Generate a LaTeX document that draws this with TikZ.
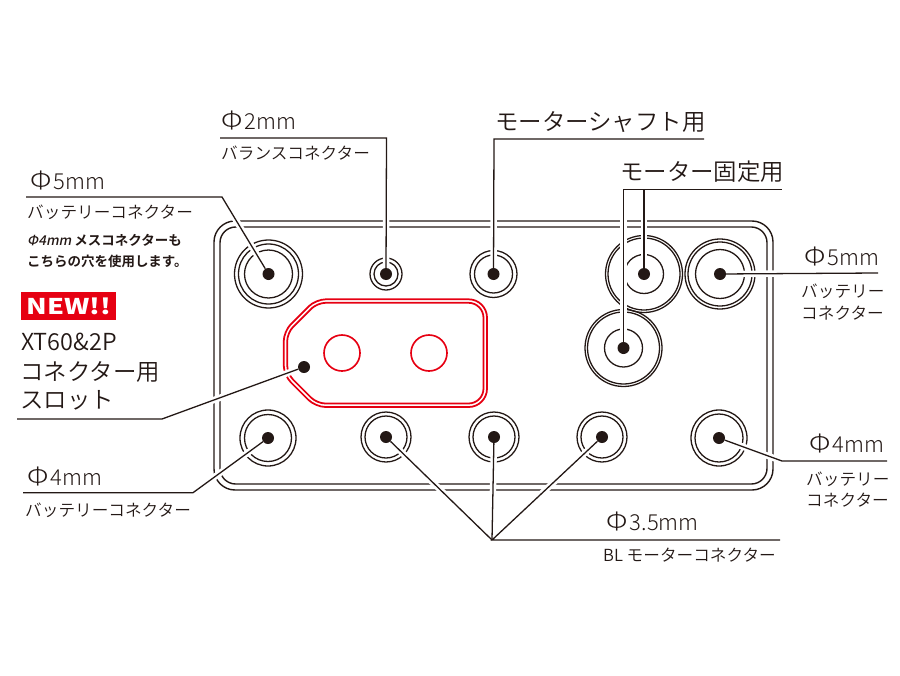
\documentclass[tikz,border=0pt]{standalone}
\usepackage{fontspec}
\setmainfont{Noto Sans CJK JP Bold}
\newfontfamily\lightjp{Noto Sans CJK JP DemiLight}
\newfontfamily\thinjp{Noto Sans CJK JP Light}
\newfontfamily\heavyjp{Noto Sans CJK JP Black}
\newfontfamily\noteit[FakeSlant=0.2]{Noto Sans CJK JP Medium}
\definecolor{inkline}{HTML}{231815}
\definecolor{slotred}{HTML}{E60012}
\newcommand{\dsign}{\scalebox{1.25}[1.12]{Φ}\hspace{0.1em}}
\pgfdeclarelayer{plate}
\pgfdeclarelayer{halo}
\pgfsetlayers{plate,halo,main}
\begin{document}
\begin{tikzpicture}[
      x=0.03cm, y=-0.03cm,
      plateline/.style={draw=inkline, line width=1.2pt},
      ringline/.style={draw=inkline, line width=1.1pt},
      slotline/.style={draw=slotred, line width=1.5pt},
      leader/.style={draw=inkline, line width=1.1pt},
      haloline/.style={draw=white, line width=5.5pt},
      hole/.style={circle, fill=inkline, minimum size=0.36cm, inner sep=0pt},
      dia/.style={anchor=base west, inner sep=0pt, text=inkline, font=\thinjp\fontsize{18.8}{20}\selectfont},
      bigtxt/.style={anchor=base west, inner sep=0pt, text=inkline, font=\lightjp\fontsize{20}{22}\selectfont},
      smalltxt/.style={anchor=base west, inner sep=0pt, text=inkline, font=\lightjp\fontsize{14.2}{16}\selectfont},
      notetxt/.style={anchor=base west, inner sep=0pt, text=inkline, font=\fontsize{11.5}{13}\selectfont}
    ]
      \useasboundingbox (0,0) rectangle (900,675);
      % holes
      \foreach \nm/\xx/\yy in {a/268.5/274, b/386/274, c/493.5/274, d/644/274, e/720/274, f/623.5/348,
                               g/268/438, h/386/437, i/494/437, j/602/437, k/719/438, s/304/367} {
        \node[hole] (\nm) at (\xx,\yy) {};
      }
      \coordinate (ka) at (222,197);    \coordinate (ea) at (26,197);
      \coordinate (kb) at (386.5,138);  \coordinate (eb) at (220,138);
      \coordinate (kc) at (494,139);    \coordinate (ec) at (704,139);
      \coordinate (kd) at (644,189.5);
      \coordinate (kf) at (623.5,189.5); \coordinate (ef) at (782,189.5);
      \coordinate (ee) at (878,273);
      \coordinate (kk) at (782,461);    \coordinate (ek) at (887,461);
      \coordinate (kg) at (193,492.7);  \coordinate (eg) at (23,492.7);
      \coordinate (ks) at (162,419);    \coordinate (es) at (17,419);
      \coordinate (kh) at (492,540);    \coordinate (eh) at (780,540);
      \begin{pgfonlayer}{plate}
        \draw[plateline, rounded corners=0.63cm] (214,221) rectangle (773,490);
        \draw[plateline, rounded corners=0.47cm] (220,227) rectangle (767,484);
        \foreach \nm/\rr in {a/{34,30,24}, b/{16,12}, c/{23.5,19}, d/{38.5,36,19.5}, e/{35,32,24.5}, f/{38.5,36,19},
                             g/{28,23.5}, h/{25,21}, i/{25,21}, j/{25,21}, k/{28,24}} {
          \foreach \r in \rr {
            \draw[ringline] (\nm.center) circle [radius=\r];
          }
        }
        % slot
        \draw[slotline] (400,299.3) [rounded corners=0.55cm] -- (487,299.3) -- (487,407) -- (400,407)
          [rounded corners=0.3cm] -- (315.5,407) -- (283.7,375.2) -- (283.7,331.3) -- (315.7,299.3) -- cycle;
        \draw[slotline] (400,302.8) [rounded corners=0.45cm] -- (483.5,302.8) -- (483.5,403.5) -- (400,403.5)
          [rounded corners=0.25cm] -- (317,403.5) -- (287.2,373.7) -- (287.2,332.8) -- (317.2,302.8) -- cycle;
        \draw[slotred, line width=1.4pt] (342,353) circle [radius=18];
        \draw[slotred, line width=1.4pt] (429,353) circle [radius=18];
      \end{pgfonlayer}
      % leaders
      \foreach \nm/\p/\q in {a/ka/ea, b/kb/eb, c/kc/ec, d/kd/kd, f/kf/ef, e/ee/ee, k/kk/ek, g/kg/eg, s/ks/es,
                             h/kh/kh, i/kh/kh, j/kh/eh} {
        \begin{pgfonlayer}{halo}
          \draw[haloline] (\nm) -- (\p) -- (\q);
        \end{pgfonlayer}
        \draw[leader] (\nm) -- (\p) -- (\q);
      }
      % labels
      \node[dia] (tb) at (221,129) {\dsign 2mm};
      \node[smalltxt] (tb2) at (221,159) {バランスコネクター};
      \node[bigtxt] (tc) at (495,130) {モーターシャフト用};
      \node[bigtxt] (tf) at (620,180) {モーター固定用};
      \node[dia] (ta) at (30,189) {\dsign 5mm};
      \node[smalltxt] (ta2) at (27,218) {バッテリーコネクター};
      \node[notetxt] (tn1) at (27,245) {{\noteit Φ4mm} メスコネクターも};
      \node[notetxt] (tn2) at (27,266) {こちらの穴を使用します。};
      \node[fill=slotred, minimum width=2.85cm, minimum height=0.83cm, inner sep=0pt, anchor=north west,
            text=white, font=\heavyjp\fontsize{18.5}{20}\selectfont] (tnew) at (21,292) {\scalebox{1.25}[1]{NEW!!}};
      \node[bigtxt] (ts1) at (21,350) {XT60\&2P};
      \node[bigtxt] (ts2) at (20,380) {コネクター用};
      \node[bigtxt] (ts3) at (20,408) {スロット};
      \node[dia] (tg) at (27,485) {\dsign 4mm};
      \node[smalltxt] (tg2) at (25,516) {バッテリーコネクター};
      \node[dia] (te) at (804,265) {\dsign 5mm};
      \node[smalltxt] (te2) at (801,297) {バッテリー};
      \node[smalltxt] (te3) at (801,319) {コネクター};
      \node[dia] (tk) at (809,452) {\dsign 4mm};
      \node[smalltxt] (tk2) at (806,485) {バッテリー};
      \node[smalltxt] (tk3) at (806,506) {コネクター};
      \node[dia] (th) at (606,530) {\dsign 3.5mm};
      \node[smalltxt] (th2) at (603,561) {BL モーターコネクター};
    \end{tikzpicture}
\end{document}
